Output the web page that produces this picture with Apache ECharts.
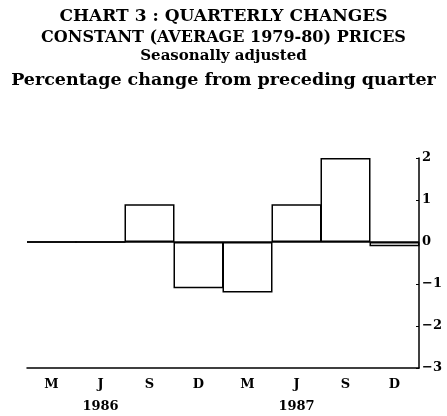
<!DOCTYPE html>
<html>
<head>
<meta charset="utf-8">
<script src="https://cdn.jsdelivr.net/npm/echarts@6/dist/echarts.min.js"></script>
<style>
html,body{margin:0;padding:0;background:#fff}
#chart{width:447px;height:416px}
</style>
</head>
<body>
<div id="chart"></div>
<script>
var quarters = ['M', 'J', 'S', 'D', 'M', 'J', 'S', 'D']
var years = ['', '1986', '', '', '', '1987', '', '']
var changes = [0, 0, 0.9, -1.1, -1.2, 0.9, 2.0, -0.1]
var titleLines = [
    'CHART 3 : QUARTERLY CHANGES',
    'CONSTANT (AVERAGE 1979-80) PRICES',
    'Seasonally adjusted',
    'Percentage change from preceding quarter'
]

var font = 'DejaVu Serif'
var chart = echarts.init(document.getElementById('chart'))

function titleStyle(size) {
    return { fontFamily: font, fontWeight: 'bold', fontSize: size, color: '#000' }
}

chart.setOption({
    animation: false,
    title: [
        { text: titleLines[0], left: 'center', top: 3, textStyle: titleStyle(17) },
        { text: titleLines[1], left: 'center', top: 25, textStyle: titleStyle(16) },
        { text: titleLines[2], left: 'center', top: 44, textStyle: titleStyle(15) },
        { text: titleLines[3], left: 'center', top: 66, textStyle: titleStyle(17.5) }
    ],
    grid: { left: 27, right: 28, top: 158, bottom: 48 },
    xAxis: {
        type: 'category',
        data: quarters,
        axisLine: { onZero: false, lineStyle: { color: '#000', width: 1.5 } },
        axisTick: { show: false },
        axisLabel: {
            interval: 0,
            margin: 6,
            formatter: function (v, i) {
                return years[i] ? '{m|' + v + '}\n{y|' + years[i] + '}' : '{m|' + v + '}'
            },
            rich: {
                m: { fontFamily: font, fontWeight: 'bold', fontSize: 13, color: '#000', lineHeight: 22 },
                y: { fontFamily: font, fontWeight: 'bold', fontSize: 13, color: '#000', lineHeight: 22 }
            }
        }
    },
    yAxis: {
        type: 'value',
        position: 'right',
        min: -3,
        max: 2,
        interval: 1,
        splitLine: { show: false },
        axisLine: { show: true, lineStyle: { color: '#000', width: 1.5 } },
        axisTick: { show: true, inside: true, length: 3, lineStyle: { color: '#000' } },
        axisLabel: {
            margin: 3,
            fontFamily: font,
            fontWeight: 'bold',
            fontSize: 13,
            color: '#000',
            formatter: function (v) { return v < 0 ? '\u2212' + Math.abs(v) : String(v) }
        }
    },
    series: [{
        type: 'bar',
        data: changes,
        barWidth: 50,
        itemStyle: { color: 'rgba(0,0,0,0)', borderColor: '#000', borderWidth: 1.5 },
        markLine: {
            silent: true,
            symbol: 'none',
            label: { show: false },
            lineStyle: { color: '#000', type: 'solid', width: 1.5 },
            data: [{ yAxis: 0 }]
        }
    }]
})
</script>
</body>
</html>
